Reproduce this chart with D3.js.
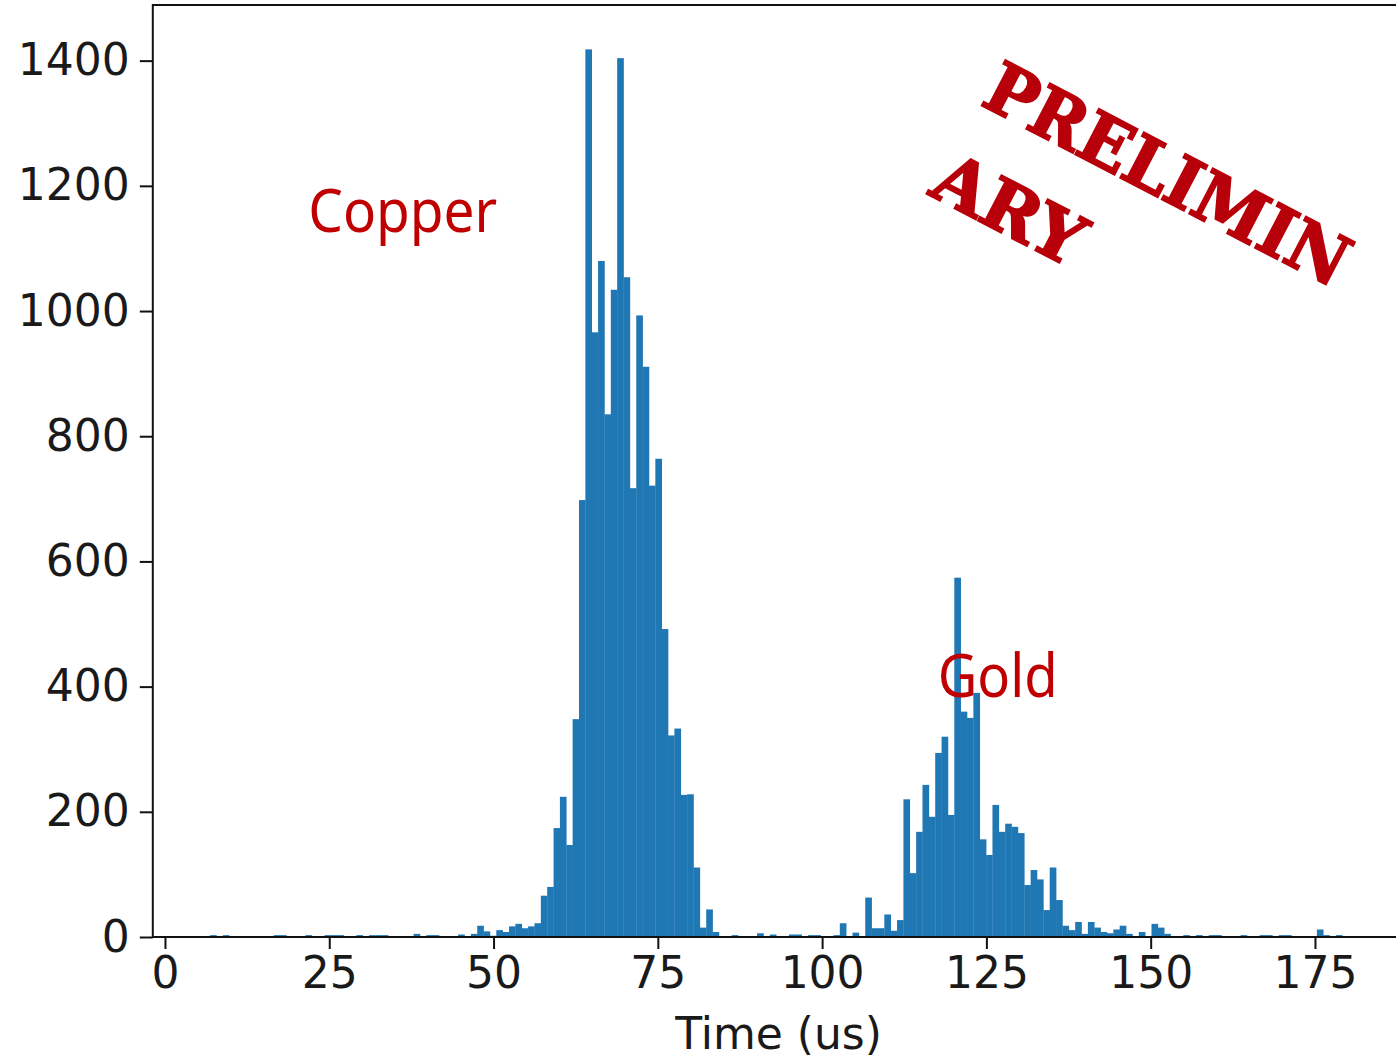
<!DOCTYPE html>
<html>
<head>
<meta charset="utf-8">
<script src="https://cdn.jsdelivr.net/npm/d3@7"></script>
<style>
  html, body { margin: 0; padding: 0; background: #fff; }
  svg { display: block; }
</style>
</head>
<body>
<div id="chart"></div>
<script>
// Histogram bins (time in us)
const binStart = 6.86;
const binWidth = 0.968;

// Counts per bin (180 bins)
const counts = [
  3, 0, 3, 0, 0, 0, 0, 0, 0, 0,
  3, 3, 0, 0, 0, 3, 0, 0, 3, 3,
  3, 0, 0, 3, 0, 3, 3, 3, 0, 0,
  0, 0, 5, 0, 3, 3, 0, 0, 0, 4,
  0, 5, 18, 9, 2, 11, 8, 17, 21, 14,
  17, 22, 66, 80, 174, 224, 147, 348, 698, 1418,
  966, 1080, 835, 1034, 1404, 1054, 717, 993, 911, 721,
  764, 492, 322, 333, 227, 228, 111, 15, 44, 8,
  0, 0, 3, 0, 0, 0, 6, 0, 4, 0,
  0, 4, 4, 0, 3, 3, 0, 0, 3, 22,
  0, 7, 0, 63, 14, 14, 36, 10, 27, 220,
  102, 168, 243, 192, 294, 320, 195, 574, 360, 350,
  390, 156, 131, 211, 168, 181, 176, 166, 83, 107,
  92, 43, 111, 59, 18, 11, 24, 5, 24, 15,
  8, 6, 12, 18, 5, 0, 8, 0, 21, 15,
  5, 0, 0, 3, 0, 3, 0, 3, 3, 0,
  0, 0, 3, 0, 0, 3, 3, 0, 3, 3,
  0, 0, 0, 0, 12, 3, 0, 3, 0, 1
];

const xTicks = [0, 25, 50, 75, 100, 125, 150, 175];
const yTicks = [0, 200, 400, 600, 800, 1000, 1200, 1400];
const xLabel = "Time (us)";

// Text notes in data coordinates
const notes = [
  { text: "Copper", x: 21.8, y: 1126, width: 189 },
  { text: "Gold", x: 117.6, y: 383, width: 120 }
];

const width = 1396;
const height = 1058;

const bins = counts.map((c, i) => ({
  x0: binStart + i * binWidth,
  x1: binStart + (i + 1) * binWidth,
  count: c
}));

// matplotlib-like 5% margins on x
const lo = binStart;
const hi = binStart + counts.length * binWidth;
const pad = (hi - lo) * 0.05;

const x = d3.scaleLinear()
  .domain([lo - pad, hi + pad])
  .range([152.8, 1412.3]);

const y = d3.scaleLinear()
  .domain([0, d3.max(counts) * 1.05])
  .range([937, 5]);

const svg = d3.select("#chart")
  .append("svg")
  .attr("width", width)
  .attr("height", height)
  .style("overflow", "hidden");

// Bars
svg.append("g")
  .selectAll("rect")
  .data(bins.filter((d) => d.count > 0))
  .enter()
  .append("rect")
  .attr("x", (d) => x(d.x0))
  .attr("y", (d) => y(d.count))
  .attr("width", (d) => x(d.x1) - x(d.x0) + 0.3)
  .attr("height", (d) => y(0) - y(d.count))
  .attr("fill", "#1f77b4");

// Spines
const [x0px, x1px] = x.range();
const [yBot, yTop] = y.range();
svg.append("rect")
  .attr("x", x0px)
  .attr("y", yTop)
  .attr("width", x1px - x0px)
  .attr("height", yBot - yTop)
  .attr("fill", "none")
  .attr("stroke", "#111")
  .attr("stroke-width", 2);

// Axes
const fontAxis = "'DejaVu Sans', sans-serif";

const xAxis = svg.append("g")
  .attr("transform", `translate(0, ${yBot})`)
  .call(d3.axisBottom(x).tickValues(xTicks).tickSize(12).tickPadding(8).tickFormat(d3.format("d")));

const yAxis = svg.append("g")
  .attr("transform", `translate(${x0px}, 0)`)
  .call(d3.axisLeft(y).tickValues(yTicks).tickSize(13).tickPadding(10).tickFormat(d3.format("d")));

[xAxis, yAxis].forEach((g) => {
  g.select(".domain").remove();
  g.selectAll(".tick line").attr("stroke", "#111").attr("stroke-width", 2);
  g.selectAll(".tick text")
    .attr("fill", "#1a1a1a")
    .style("font-family", fontAxis)
    .style("font-size", "44px");
});

svg.append("text")
  .attr("x", (x0px + x1px) / 2 - 4)
  .attr("y", 1049)
  .attr("text-anchor", "middle")
  .attr("fill", "#1a1a1a")
  .style("font-family", fontAxis)
  .style("font-size", "44px")
  .text(xLabel);

// Red notes
svg.selectAll("text.note")
  .data(notes)
  .enter()
  .append("text")
  .attr("class", "note")
  .attr("x", (d) => x(d.x))
  .attr("y", (d) => y(d.y))
  .attr("textLength", (d) => d.width)
  .attr("lengthAdjust", "spacingAndGlyphs")
  .attr("fill", "#c00000")
  .style("font-family", "'Noto Sans', sans-serif")
  .style("font-size", "60px")
  .text((d) => d.text);

// Preliminary stamp
const stamp = svg.append("g")
  .attr("fill", "#b8000a")
  .attr("stroke", "#b8000a")
  .attr("stroke-width", 2)
  .style("font-family", "'DejaVu Serif', serif")
  .style("font-weight", "bold")
  .style("font-size", "70px");

stamp.append("text")
  .attr("transform", "translate(979, 104) rotate(27.5)")
  .attr("textLength", 400)
  .attr("lengthAdjust", "spacingAndGlyphs")
  .text("PRELIMIN");

stamp.append("text")
  .attr("transform", "translate(927, 194) rotate(27.5)")
  .attr("textLength", 160)
  .attr("lengthAdjust", "spacingAndGlyphs")
  .text("ARY");
</script>
</body>
</html>
